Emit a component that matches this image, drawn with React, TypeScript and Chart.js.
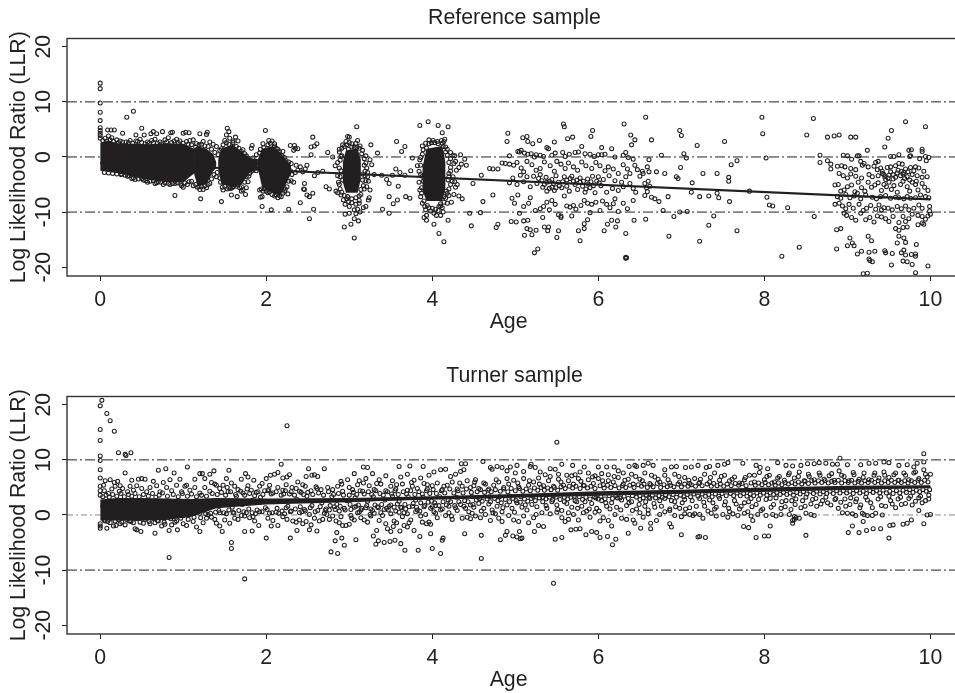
import React, { useEffect, useRef } from "react";
import { Chart, registerables } from "chart.js";
Chart.register(...registerables);

const xTickStep = 2;
const yTickStep = 10;
const xRange = [-0.4, 10.38];
const yRange = [-21.6, 21.5];
const refLines = [10, 0, -10];
const trendAges = [0, 10];
const refTrend = [-1.05, -7.7];
const turnerTrend = [1.55, 5.1];

// Outlines of the saturated cores: [ages, upper, lower]
const refCores = [
  [[0, .1, .2, .4, .6, .8, 1, 1.13], [2.6, 3, 2.5, 2.4, 2.3, 2.5, 2.4, 1.5], [-2.5, -2.7, -2.9, -3.6, -4.2, -4.6, -4.6, -3]],
  [[1.13, 1.17, 1.28, 1.36, 1.4], [1.5, 2, 1.5, .5, -1], [-3, -5.2, -5, -2.6, -2]],
  [[1.42, 1.46, 1.6, 1.7, 1.8, 1.9], [-.5, 1.6, 2.2, 1, -.2, -.4], [-2.2, -5, -5.4, -5, -2.8, -2.2]],
  [[1.9, 1.95, 2.08, 2.17, 2.3], [-.4, 1.5, 2, .8, -1.6], [-2.2, -5.5, -6.6, -7, -3]],
  [[2.92, 2.96, 3.1, 3.14], [-1, 1.2, 1.5, -.5], [-4.5, -6.5, -6.5, -4]],
  [[3.88, 3.93, 4.12, 4.16], [-2, 1.5, 2, -1], [-6, -8, -8, -5.5]],
];
const turnerCores = [
  [[0, .2, .5, .8, 1.1, 1.4, 2, 3, 4, 5, 6, 7, 8, 9, 10], [2.8, 3.1, 3.1, 3, 2.9, 3.1, 3, 3.1, 3.4, 3.8, 4.3, 4.6, 5, 5.3, 5.4], [-1, -1, -1, -.9, -.3, 1.2, 1.9, 2.3, 2.9, 3.3, 3.8, 4.1, 4.4, 4.7, 4.9]],
];

// age, LLR pairs read by eye
const refYoung = [
0,13.4,0,12.4,0,9.8,0,8.1,0,6.6,0,5.3,0,4.8,0,4.3,0,3.9,0,3.4,.32,7.2,.4,8.3,.5,5.2,.17,4.9,.09,4.9,.13,4.9,.27,4.3,.43,4,.53,4,.64,4.6,.61,4.2,.68,4.2,.75,4.6,.87,4.5,.85,4.4,1,4.3,1.03,4.5,1.07,4.4,1.2,4.2,1.29,4.5,1.28,4.1,1.53,5.2,1.55,4.6,1.52,4,1.63,3.6,1.99,4.8,2.56,3.6,2.61,2.4,2.58,2,2.54,1.8,2.29,2.1,2.34,2.1,2.35,1.6,2.38,1.5,2.33,1.2,1.83,2.1,1.82,1.6,2.54,.4,
.9,-7,1.21,-7.6,1.46,-8.1,1.58,-6.9,1.65,-7.2,1.75,-6.8,1.95,-9,2.06,-9.6,2.27,-9.5,1.93,-7.3,1.95,-7.2,2.41,-8.3,2.52,-11.2,2.57,-9.5,2.45,-5.8,2.46,-5.9,2.46,-4.8,2.49,-1.5,2.56,-6.6,2.52,-7.2,2.49,-6.9,
.06,3.4,.1,3.8,.14,3.5,.2,3.1,.24,2.9,.31,2.7,.36,3,.45,2.8,.48,3.2,.57,2.7,.62,3,.66,3.2,.72,2.7,.78,3.1,.82,3.5,.92,3.2,.96,2.9,1.04,2.8,1.08,3,1.12,3.1,1.16,2.4,1.24,2.8,1.32,2.7,1.36,2.3,1.4,1.9,1.46,1.5,1.5,3,1.56,3.4,1.6,2.6,1.66,2.9,1.7,1,1.74,.6,1.78,-.2,1.88,.4,1.92,.7,1.96,2.4,2.03,3,2.07,2.9,2.1,2,2.14,1.4,2.2,1,2.24,-.7,2.3,-1.2,2.36,-1.5,2.41,-1.8,2.47,-2.2,
.25,-3.2,.33,-3.5,.38,-3.9,.42,-4.1,.52,-4.2,.57,-4.6,.66,-4.8,.7,-4.5,.76,-5,.84,-5,.9,-4.8,.98,-5.2,1,-5.5,1.05,-5,1.12,-5.2,1.17,-5.5,1.2,-5.9,1.24,-5.9,1.28,-5.6,1.32,-4.8,1.4,-3.6,1.44,-3.8,1.47,-5.5,1.48,-6,1.53,-5.8,1.57,-5.7,1.6,-5.4,1.64,-5.3,1.68,-5.6,1.7,-6.2,1.72,-6,1.76,-5.6,1.78,-4.5,1.79,-3.5,1.82,-2.6,1.86,-1.9,1.9,-1.6,1.92,-6,1.96,-6.2,2.02,-6.5,2.1,-7.1,2.14,-7.4,2.18,-7.2,2.22,-6.2,2.25,-5.4,2.26,-6.7,2.3,-4.3,2.33,-4.6,2.21,-4.2,2.29,-2.5,2.38,-2.4,2.44,-2.7,
2.58,-3.4,2.62,-2.8,2.68,-2.6,2.74,.8,2.8,0,2.83,-1.6,2.72,-5.4,2.76,-5.8,2.86,-6.5,2.9,-6.9,2.84,-6.2,3.09,5.5,3.1,3,3.26,2.2,2.98,3.7,3,3.6,3.34,.7,3.76,-.2,3.82,-1.6,3.74,-2.5,3.39,-3.3,3.52,-3.3,3.56,-2.2,3.61,-2.8,3.67,-3.3,3.45,-4.1,3.48,-4.8,3.59,-5.3,3.48,-7.2,3.58,-7.8,3.53,-8.5,3.68,-7.2,3.73,-7.5,3.4,-9.5,3.48,-10.2,3.23,-7.8,3.2,-9,3.17,-9.2,3.57,2.8,3.67,1.9,3.63,1,
2.94,-12.7,3.02,-12.2,3.06,-11.2,3.11,-11.6,3.06,-14.7,3.85,5.7,3.95,6.4,4.07,5.7,4.19,5.5,4.12,4.4,4.15,3.2,4.14,2.8,4.08,-13.9,4.14,-15.4,4.02,-12.2,4.19,-11.5,3.93,-11.5,4.47,-12.5,4.45,-10.2,4.58,-10.1,4.61,-8.1,4.73,-6.9,4.36,-7.6,4.32,-7.1,4.23,-8.2,4.59,-3.3,4.49,-4.8,4.69,-2.1,4.73,-2.2,4.79,-2.2,4.41,-1.5,4.35,-1.3,4.39,-.4,4.34,.4,4.27,.2,
2.92,2.2,2.96,2.8,2.99,1.4,3.03,1.8,3.08,2.5,3.13,2,3.16,1.2,2.88,.9,2.9,.1,3.2,.2,3.25,-.5,3.27,-1.4,3.22,-2.8,3.3,-3.2,2.9,-2.5,2.86,-3.4,2.92,-4.2,2.88,-5,2.97,-7.6,3.03,-8.3,3.08,-8.6,3.12,-7.9,3.14,-6.8,3.18,-5.8,3.2,-4.3,3.25,-6,3.24,-7.4,3,-9,2.95,-8.6,3.06,-9.6,3.1,-9.5,3,-10.2,2.95,-10.4,3.08,-10.3,3.13,-10,3.16,-3.1,3.23,-4.4,
3.88,2,3.93,1.6,3.96,2.4,3.99,2.6,4.03,2.6,4.07,2.4,4.11,3,4.13,1.9,4.18,1.4,4.22,.8,4.25,.3,4.28,-.8,4.32,-1.9,4.22,-2.6,4.2,-3.6,4.24,-4.4,4.28,-5.5,4.17,-6.2,4.14,-7.2,4.1,-8.5,4.08,-9,4.12,-9.2,4.18,-8.4,3.88,-3.5,3.89,-4.4,3.87,-5.6,3.86,-7.2,3.9,-8,3.94,-8.8,3.92,-9.6,3.98,-9.8,4.02,-10.2,3.93,-10.6,3.9,-11,4.05,-10.6,4.1,-10.6,4.13,-10,4.3,-5,4.26,-6.8,4.2,-7,
];
const refDense = [
.03,3,.08,2.9,.12,3.1,.16,2.8,.22,2.6,.27,2.7,.34,2.6,.39,2.5,.43,2.9,.5,2.6,.54,2.4,.59,2.5,.64,2.6,.69,2.5,.74,2.4,.8,2.7,.86,2.6,.89,2.9,.94,2.6,1,2.5,1.06,2.3,1.1,2.2,1.15,1.8,1.19,2.2,1.22,2.3,1.26,2,1.3,1.9,1.34,1.4,1.38,.8,1.42,.4,1.44,1.2,1.48,2.2,1.52,2.6,1.55,2.3,1.6,2.9,1.64,1.9,1.67,1.6,1.72,1.3,1.76,.2,1.84,-.2,1.88,-.8,1.93,1.4,1.97,1.7,2.02,2.2,2.05,2.5,2.1,2.4,2.12,1.6,2.16,1,2.19,.2,2.22,-.1,2.27,-.9,
.05,-2.8,.1,-2.9,.15,-3,.2,-3.1,.26,-3.1,.3,-3.3,.35,-3.4,.4,-3.8,.46,-4,.5,-3.9,.55,-4.3,.6,-4.4,.64,-4.3,.68,-4.7,.73,-4.6,.78,-4.7,.82,-4.8,.87,-4.8,.93,-4.7,.97,-4.9,1.02,-4.7,1.07,-4.5,1.1,-4.4,1.15,-5,1.19,-5.4,1.22,-5.4,1.26,-5.2,1.3,-5,1.34,-4,1.37,-3.2,1.41,-2.8,1.45,-4.6,1.5,-5.3,1.55,-5.6,1.59,-5.6,1.62,-5.1,1.66,-5,1.7,-5.4,1.74,-4.6,1.76,-3.6,1.8,-3,1.84,-2.4,1.88,-2.5,1.94,-5.8,1.98,-5.8,2,-6.2,2.04,-6.3,2.07,-6.8,2.12,-6.9,2.16,-7,2.2,-6.6,2.23,-5.8,2.27,-4.4,2.31,-3.2,2.35,-2.8,
2.88,1.4,2.91,1.6,2.94,1.9,2.97,2.2,3,2.6,3.03,2.4,3.06,1.7,3.09,1.7,3.12,1.6,3.15,.6,3.18,-.3,3.18,-1.5,3.21,-2,3.19,-3.4,3.16,-4.2,3.17,-5.2,3.14,-5.9,3.12,-7.1,3.08,-7.4,3.03,-7.6,2.98,-7.2,2.94,-7,2.91,-6.4,2.89,-5.8,2.87,-4.6,2.89,-3.6,2.88,-2,2.86,-1,2.89,-.6,2.91,.2,3.2,-1.1,3.19,-2.6,3.22,-3.6,3.21,-5.4,3.12,-8.4,2.99,-8.1,2.93,-7.8,
3.85,-.5,3.86,-1.5,3.84,-2.6,3.86,-3.2,3.84,-4.6,3.85,-6,3.87,-6.6,3.88,-8.4,3.91,-9,3.96,-9.2,4,-9.3,4.04,-9.5,4.07,-9.7,4.1,-8.9,4.14,-8.2,4.16,-7.5,4.18,-6.6,4.2,-5.8,4.22,-5,4.19,-4.2,4.2,-3,4.22,-1.9,4.2,-1,4.22,-.3,4.18,.3,4.16,.9,4.16,1.8,4.12,2.5,4.06,2.8,4.01,3,3.96,3.1,3.92,2.5,3.89,1.3,3.88,.5,3.86,-.1,4.26,-1.2,4.29,-2.4,4.25,-3.6,4.27,-4.5,
];
const refMid = [
4.91,4.3,4.9,2.8,5.09,3.5,5.14,3.7,5.15,2.8,5.21,2.4,5.29,3,5.38,1.7,5.4,1.5,5.47,2.7,5.58,6,5.59,5.5,5.63,3.3,5.69,3.6,5.91,3.7,5.93,4.8,6.04,1.7,6.16,1.5,6.31,6,6.39,4,6.44,3.1,6.4,2.2,
5.23,-17.4,5.27,-16.7,6.33,-18.2,6.33,-18.4,6.34,-18.3,6.33,-13.9,5.78,-15.2,5.5,-14.6,5.52,-13.4,5.11,-14.2,5.2,-14.1,5.14,-13,5.18,-13.2,5.25,-13.3,5.35,-12.7,5.4,-12.7,5.39,-13.4,4.79,-12.2,4.77,-12.8,4.95,-11.7,5.01,-11.8,5.1,-11.6,5.15,-11.5,5.76,-13.4,5.83,-13,5.83,-12.1,6.07,-13.4,6.11,-12.2,6.16,-11.5,6.23,-11.6,6.21,-12.7,6.43,-11.5,
4.93,.2,5.03,1,5.05,.9,5.07,1.2,5.11,.7,5.15,.5,5.19,.6,5.23,0,5.25,.4,5.3,.3,5.34,.1,5.44,.3,5.48,.7,5.57,.8,5.6,.1,5.65,.5,5.72,.8,5.76,.9,5.8,1.9,5.84,.6,5.9,.5,5.95,.1,6,.4,6.04,.4,6.08,.5,6.2,0,6.3,.3,6.33,.8,6.36,-.1,6.42,-.4,
4.84,-1.1,4.88,-1.2,4.93,-1.3,4.98,-1.5,5.02,-1,5.07,-2,5.1,-2.7,5.14,-.8,5.2,-1.4,5.25,-2.4,5.3,-2.1,5.35,-.9,5.42,-1.6,5.47,-2.6,5.5,-.8,5.55,-1.3,5.6,-2.1,5.64,-1.1,5.7,-1.8,5.75,-2.4,5.8,-.9,5.85,-1.6,5.92,-2.1,5.97,-1,6.02,-1.6,6.08,-2.5,6.12,-1.8,6.18,-2.2,6.24,-3,6.3,-1.4,6.35,-2.2,6.38,-3,6.44,-1.5,
4.93,-4.7,4.97,-3.8,5.02,-5,5.06,-3.3,5.1,-4.5,5.14,-3.6,5.18,-5.4,5.22,-3.5,5.26,-4.8,5.3,-3.2,5.33,-5.5,5.37,-3.7,5.38,-6.2,5.41,-4.4,5.44,-5.5,5.47,-6.1,5.49,-3.4,5.52,-4.6,5.56,-5.6,5.59,-3.6,5.62,-4.2,5.65,-6.2,5.68,-3.5,5.72,-5,5.75,-5.9,5.78,-3.8,5.81,-5.3,5.84,-6.4,5.87,-4,5.9,-5.6,5.93,-3.5,5.96,-6.5,6,-3.6,6.03,-5.2,6.06,-4.1,6.1,-6.4,6.13,-3.4,6.17,-5.7,6.2,-4.3,6.24,-6.1,6.28,-4.6,6.3,-5.4,6.33,-3.6,6.38,-4.8,6.42,-5.7,6.45,-6.4,
4.96,-7.5,4.99,-8.4,5.03,-6.9,5.1,-9,5.16,-8.4,5.18,-7.4,5.24,-9.7,5.3,-9.4,5.34,-9,5.38,-8.2,5.41,-9.6,5.44,-7.9,5.48,-8.6,5.52,-10.5,5.55,-10.7,5.59,-7.1,5.62,-8.9,5.66,-9.1,5.7,-8.8,5.73,-9.5,5.79,-8.8,5.83,-7.9,5.87,-8.4,5.9,-10.1,5.92,-8.6,5.97,-8.2,6.02,-9.7,6.05,-8,6.1,-8.6,6.14,-9.2,6.18,-8.5,6.2,-7.6,6.24,-9.9,6.3,-8.4,6.35,-9.4,6.42,-7.9,
5.87,-11.4,5.68,-10.7,5.55,-11,5.33,-11,5.05,-10.2,
5.28,-3.9,5.32,-4.3,5.35,-5,5.38,-4.6,5.41,-5.7,5.44,-4.1,5.46,-4.8,5.49,-5.6,5.53,-5.2,5.57,-4.5,5.62,-5.3,5.66,-3.9,5.7,-4.4,5.74,-4.2,5.78,-4.6,5.82,-4.4,5.85,-5.8,5.88,-4.9,5.91,-4.5,5.94,-5.2,5.98,-4.4,6.01,-4.7,
6.57,7.2,7.97,7.2,8.59,7,7.98,4.2,6.98,4.8,7,3.9,7.19,2.1,7.52,2.8,6.64,3.1,7.03,.6,7.06,-.2,6.76,.3,8.02,-.2,8.51,4,8.76,3.6,8.84,3.8,8.9,4,9.04,3.6,9.1,3.6,
6.61,-.5,6.59,-1.8,7.67,-.7,7.6,-1.4,6.47,-2.3,6.54,-3,6.61,-2.7,6.7,-2.7,6.8,-3,6.94,-3.6,6.96,-3.9,6.99,-1.9,7.26,-3,7.43,-3,7.13,-4.7,7.57,-3.7,7.57,-4.4,7.82,-6.2,7.12,-6.4,7.22,-7.2,7.33,-7.1,7.43,-6.6,7.45,-7.4,7.58,-8.1,8.03,-7.3,8.06,-8.7,8.1,-8.9,8.28,-9.2,6.56,-7,6.59,-6.3,6.64,-7.3,6.68,-7.6,6.73,-8.1,6.84,-7.2,6.78,-9.7,6.98,-10,7.07,-9.9,6.91,-10.8,7.39,-10.7,7.33,-12.4,6.57,-11.3,6.85,-14.4,7.22,-15.3,7.67,-13.4,8.6,-10.8,8.21,-18,8.42,-16.4,8.67,.3,8.67,-1,8.76,-.7,8.8,-1.3,8.8,-2.2,
6.5,-3.5,6.53,-2.6,6.56,-4.8,6.6,-4.4,6.58,-5.6,6.62,-5.3,
];
const refOld = [
9.7,6.4,9.94,5.5,9.53,4.8,9.49,3.4,9.45,1.8,9.24,1.2,8.95,.3,9,.2,9.05,-.4,9.12,.2,9.14,.2,9.16,-.8,9.2,-1.2,9.34,-1,9.37,-.8,9.52,.1,9.56,.1,9.62,.4,9.74,1.2,9.77,1.3,9.9,1.4,9.9,1,9.94,.1,9.98,-.1,9.95,-.7,9.87,-.3,9.76,.2,9.75,.1,
8.88,-1.7,8.93,-1.6,8.97,-1.8,9.04,-2.1,9.1,-2.3,9.18,-1.5,9.25,-1.8,9.32,-1.7,9.36,-2.3,9.4,-2,9.48,-1.9,9.52,-1.8,9.58,-1.6,9.62,-1.2,9.66,-1.3,9.7,-2.2,9.76,-1.9,9.82,-1.8,9.86,-2,9.92,-2.6,
8.9,-3,8.95,-3.4,9,-3.8,9.04,-3.1,9.1,-3.5,9.17,-3.8,9.26,-3.2,9.3,-3.6,9.37,-3.4,9.42,-3,9.45,-3.6,9.49,-3.8,9.55,-3.2,9.6,-2.9,9.64,-3.4,9.68,-2.8,9.72,-3.6,9.78,-3.2,9.84,-3.4,9.9,-3.7,9.96,-3.6,
8.85,-5.1,8.89,-5,8.92,-6.2,8.96,-6,9,-5.4,9.05,-5.1,9.09,-6.3,9.13,-4.6,9.17,-5.6,9.21,-6.2,9.25,-4.6,9.29,-5.5,9.33,-5.1,9.37,-4.7,9.41,-6.1,9.44,-5,9.47,-5.4,9.5,-4.6,9.53,-5.9,9.56,-5.2,9.6,-6.4,9.64,-5,9.67,-4.4,9.72,-5.4,9.75,-6.2,9.78,-4.6,9.82,-5,9.85,-6,9.9,-4.8,9.93,-5.5,9.97,-6.1,
8.88,-7.2,8.92,-7.5,8.98,-6.8,9.03,-7.4,9.08,-7.1,9.12,-6.6,9.16,-7.6,9.22,-6.9,9.3,-7.3,9.35,-7.6,9.4,-7.2,9.46,-7,9.52,-7.5,9.58,-7.3,9.62,-7.4,9.68,-7.6,9.72,-7.2,9.76,-7.5,9.82,-7.4,9.88,-6.9,9.94,-7.2,9.98,-7.4,
8.85,-8.6,8.9,-8.4,8.94,-8.9,8.98,-9.4,9.02,-8.6,9.07,-9.3,9.14,-8.6,9.19,-9.7,9.23,-9.3,9.28,-8.8,9.34,-9.5,9.38,-8.7,9.41,-9.6,9.44,-9.2,9.49,-9.3,9.54,-9.6,9.6,-9,9.65,-9.4,9.7,-8.9,9.74,-9.6,9.8,-9.3,9.86,-8.7,9.9,-9.3,9.99,-9,9.99,-9.8,
8.96,-10.2,8.99,-10.6,9.05,-11,9.1,-11.5,9.16,-10.2,9.22,-11.4,9.27,-11,9.32,-11.8,9.36,-10.7,9.41,-10.9,9.46,-11.2,9.5,-11.7,9.55,-10.8,9.62,-11.9,9.67,-10.8,9.7,-11.7,9.74,-11.2,9.78,-10.4,9.85,-10.6,9.9,-10.8,9.97,-10.7,10,-10.4,9.94,-11.3,9.9,-12,9.85,-12.3,9.72,-12.7,9.67,-12.8,9.62,-13.3,9.58,-13,9.92,-12.2,
8.87,-13.2,8.92,-13,9.03,-14.7,9.06,-15.6,9.08,-16.1,9,-16.1,8.87,-16.7,9.12,-17.6,9.17,-17.1,9.26,-17.3,9.33,-17.1,9.45,-17,9.46,-17.4,9.54,-17.5,9.65,-17.4,9.7,-17.8,9.77,-17.7,9.82,-17.6,9.82,-18,9.26,-18.5,9.27,-18.8,9.3,-19,9.53,-19.6,9.67,-18.9,9.72,-19,9.78,-19.5,9.97,-19.8,9.82,-21,9.24,-21.1,9.19,-21.2,9.25,-14.4,9.29,-15.2,9.62,-14.4,9.6,-15.6,9.7,-15.5,9.68,-14.7,9.83,-15.9,9.68,-16.9,
9.42,-2.6,9.44,-3.2,9.46,-4.1,9.5,-3.3,9.52,-2.7,9.55,-4,9.58,-3.7,9.61,-2.4,9.65,-2.6,9.67,-3.1,9.69,-3.9,9.73,-2.7,9.75,-4.2,9.8,-2.5,9.83,-4.4,
];

const turnerYoung = [
.02,20.8,0,19.8,.08,18.4,.12,17.1,0,15.5,.17,15.2,0,13.5,2.25,16.2,.22,11.3,.3,11,.31,10.8,.37,11.3,0,10.7,0,9.9,0,8.2,0,6.7,2.18,9.2,1.05,8.7,2.51,8.4,.7,8.1,.79,8.4,1.55,8.1,.89,7.6,1.37,8,.3,7.6,
.83,-7.7,1.74,-11.6,1.58,-5,1.58,-6.1,2,-4.2,2.29,-4.2,.08,-2.4,.66,-3.3,.83,-2.8,.49,-3,.42,-2.5,.44,-2.7,.93,-2.7,1.2,-3,1.47,-3,1.74,-3,1.83,-2.9,2.37,-2.8,2.61,-2.9,2.52,-2.7,0,-2.4,0,-2,0,-1.6,0,5.2,0,4.4,0,3.6,
.04,5.4,.06,6.2,.12,6.4,.17,5.9,.21,6.1,.24,5.3,.36,5.2,.38,6.3,.46,6.5,.5,6.6,.54,6.5,.64,6.1,.76,5.9,.84,6.4,.96,6.5,1.04,5.4,1.14,6.5,1.2,7.5,1.23,7.5,1.26,6.6,1.32,7.4,1.34,5.9,1.4,5.4,1.52,6.6,1.58,5.8,1.7,6.5,1.75,7.5,1.78,6.9,1.85,6.3,1.95,5.7,2,6.6,2.05,7.2,2.1,7.4,2.14,7.7,2.2,6.7,2.25,6.9,2.28,7.3,2.38,6,2.44,5.5,2.48,7,2.55,7.2,2.58,7.3,2.62,7,
.05,4.4,.1,3.9,.14,4.7,.18,5.2,.23,4.3,.27,4.8,.33,4.2,.4,4.5,.44,5.3,.5,4.8,.56,4.2,.6,5,.68,5.3,.72,4.2,.8,5,.86,4.4,.92,5.4,.98,4.2,1.02,5.2,1.08,4.5,1.14,5,1.2,4,1.26,5,1.32,4.3,1.38,5.6,1.44,4.8,1.48,5.4,1.54,4.2,1.62,5.2,1.66,4.6,1.72,4,1.78,5.3,1.82,4.5,1.88,4.1,1.92,5.2,1.98,4.4,2.04,5.4,2.08,4,2.14,5,2.2,4.5,2.24,5.5,2.3,4.2,2.36,4.8,2.42,4.1,2.47,5.2,2.54,4.4,2.6,5.1,2.66,4.6,
.06,-1.1,.12,-1.4,.16,-2,.19,-1.9,.24,-1.6,.3,-1.8,.35,-1.1,.4,-1.4,.52,-1.5,.6,-1.6,.66,-1.4,.7,-1.1,.74,-2,.78,-1.7,.86,-1.8,.9,-1.3,1,-1.6,1.04,-1.9,1.12,-1.2,1.16,-2.2,1.24,-1.4,1.28,-.6,1.34,-.4,1.38,-.8,1.4,-1.5,1.44,-2,1.5,-.9,1.56,-1.5,1.62,-.6,1.66,-.8,1.74,-.2,1.8,-.5,1.86,-1.1,1.91,-1.9,2.02,-.6,2.08,-1,2.06,-2,2.14,-1.9,2.2,-.3,2.25,-.8,2.32,-1.1,2.36,-1.3,2.4,-.9,2.44,-1.6,2.48,-1.2,2.54,-1.8,2.58,-.6,2.64,-1.1,2.68,-.8,
.1,.4,.2,.1,.28,-.2,.36,.3,.46,-.4,.56,.1,.64,-.3,.72,.3,.82,-.2,.9,.2,1,-.1,1.08,.2,1.2,.3,1.3,.1,1.44,.4,1.52,.2,1.6,.5,1.7,-.1,1.76,.4,1.84,-.3,1.92,.6,2.04,.3,2.12,.5,2.22,.2,2.3,.7,2.4,.4,2.46,1,2.52,.1,2.62,.8,2.7,.3,
2.78,-6.7,2.86,-7,2.83,-4.7,2.91,-4.2,2.94,-5.5,3.08,-4.5,2.85,-3.2,3.32,-5.3,3.35,-4.7,3.42,-5,3.49,-4.8,3.55,-4.6,3.62,-5.2,3.67,-6.4,3.83,-6.4,4,-6.1,4.1,-7,4.13,-4.2,4.12,-4.6,3.85,-3.9,3.98,-3.4,3.29,-3.8,3.33,-2.8,3.46,-2.5,3.5,-3,3.53,-2.1,3.57,-1.4,3.61,-2.9,3.66,-1.9,3.7,-2.2,3.72,-1.4,3.78,-2.8,3.88,-1.3,3.93,-1.6,3.98,-1.7,
2.7,8.4,3.17,8.7,3.22,8.6,3.6,8.8,3.73,8.9,3.89,8.8,2.9,6.1,2.98,6.4,3.06,7.5,3.12,6.2,3.2,6.6,3.28,7.5,3.36,6.4,3.44,7.1,3.52,6.2,3.62,6.9,3.7,7.4,3.78,6.3,3.86,6.7,3.96,7.2,4.02,7.8,4.1,8.2,4.16,8.3,4.22,7,4.28,7.4,4.34,7.9,4.38,8.2,
2.72,1.1,2.76,-.8,2.8,-.2,2.84,-1.1,2.88,-1.4,2.9,-.3,2.92,-1.9,2.96,-1.9,3,-1.7,3.02,-.1,3.06,-.9,3.1,.4,3.14,-.5,3.18,-.9,3.22,-1.3,3.26,-.2,3.3,.3,3.36,-1,3.4,-.1,3.44,-1.6,3.5,.2,3.54,-1.1,3.6,.5,3.64,-.3,3.7,.2,3.74,-.9,3.8,.6,3.86,-.2,3.92,.1,3.96,-1.3,4.02,.6,4.06,-.5,4.1,.9,4.16,-.1,4.2,.4,4.24,-.8,4.3,.8,4.36,-.6,4.42,-.4,4.48,.3,
2.74,5,2.8,4.6,2.86,5.2,2.92,4.3,3,5,3.04,4.6,3.1,5.5,3.16,4.3,3.24,5.3,3.3,4.6,3.38,5.6,3.44,4.4,3.5,5.2,3.56,4.7,3.64,5.6,3.7,4.5,3.76,5.2,3.82,4.8,3.9,5.7,3.94,4.7,4,5.3,4.06,5.8,4.12,4.6,4.18,5.4,4.24,6,4.3,4.7,4.36,5.2,4.42,6.2,4.46,5,4.52,6.4,
2.76,.9,2.82,1.5,2.88,.7,2.94,1.2,3.02,1,3.08,1.6,3.14,.9,3.2,1.3,3.28,.8,3.34,1.5,3.42,1,3.48,1.6,3.56,.7,3.62,1.4,3.68,1.1,3.76,1.6,3.82,.9,3.9,1.5,3.98,1.2,4.04,1.7,4.12,1.1,4.2,1.6,4.28,1.3,4.34,1.9,4.4,1.2,4.46,1.8,
];
const turnerDenseA = [
.03,3.3,.07,3.6,.11,3.2,.15,3.7,.2,3.4,.25,3.9,.29,3.3,.34,3.7,.38,3.4,.42,3.9,.47,3.3,.52,3.7,.58,3.4,.63,3.9,.67,3.2,.71,3.6,.75,4,.81,3.4,.88,3.7,.94,3.3,.99,3.9,1.05,3.4,1.1,3.8,1.16,3.3,1.22,3.6,1.28,3.4,1.35,3.9,1.41,3.7,1.46,4.1,1.51,3.6,1.57,4.2,1.63,3.7,1.69,4.3,1.74,3.6,1.8,3.9,1.86,3.5,1.9,4.2,1.96,3.7,2.02,4.4,2.06,3.8,2.12,4.2,2.18,3.6,2.23,4.4,2.28,3.8,2.34,3.6,2.4,4.3,2.45,3.7,2.5,4.1,2.56,3.7,2.63,4,2.69,3.6,2.75,4.2,2.81,3.7,2.87,3.9,2.93,3.6,
.05,-.9,.09,-1.2,.13,-.6,.18,-1.1,.22,-.8,.26,-1.3,.32,-.8,.37,-1.2,.43,-.7,.48,-1.3,.54,-.8,.59,-1.2,.65,-.7,.69,-1,.77,-1.3,.85,-.7,.92,-1.1,.97,-.6,1.06,-.8,1.13,-.4,1.21,-.5,1.27,.2,1.33,.3,1.39,.5,1.43,.8,1.49,.4,1.55,.9,1.61,.3,1.67,.8,1.73,.6,1.79,1.1,1.83,.4,1.89,.9,1.95,.6,2.01,1,2.07,.4,2.13,1.2,2.19,.7,2.24,1.3,2.29,.6,2.35,1.1,2.41,1.5,2.47,.7,2.53,1.3,2.59,.6,2.65,1.5,2.71,.8,2.77,1.7,2.83,1,2.89,1.6,2.95,.9,
3,3.6,3.05,4.1,3.09,3.7,3.13,4.4,3.18,3.8,3.23,4.2,3.27,3.7,3.32,4.4,3.37,3.9,3.41,3.6,3.46,4.2,3.51,3.8,3.55,4.4,3.59,3.7,3.65,4.2,3.69,3.8,3.74,4.4,3.79,3.7,3.84,4.2,3.88,3.8,3.93,4.4,3.97,3.9,4.01,4.6,4.05,3.9,4.11,4.4,4.15,4,4.21,4.7,4.26,4,4.31,4.4,4.37,4,4.41,4.7,4.47,4.1,
3.01,1.9,3.06,1.4,3.11,1.8,3.15,1.2,3.21,1.7,3.26,1.1,3.31,1.8,3.35,1.3,3.39,1.9,3.45,1.2,3.5,1.8,3.54,1.4,3.58,2,3.63,1.3,3.67,1.9,3.72,1.5,3.77,2.1,3.81,1.4,3.86,2.2,3.91,1.7,3.95,2.3,4,1.5,4.03,2.2,4.08,1.7,4.13,2.4,4.17,1.8,4.22,2.4,4.27,1.7,4.32,2.4,4.38,1.6,4.43,2.4,4.49,1.9,
];
const turnerMid = [
4.61,9.7,4.35,9.3,4.4,9.3,5.5,13.2,5.46,-12.4,4.59,-7.9,4.39,-3.4,4.59,-3.7,4.82,-4.5,4.88,-3.7,4.9,-3,4.97,-3.8,5.02,-4,5.06,-4.3,5.08,-4.2,5.05,-3,5.23,-3,5.48,-4.4,5.56,-4.1,5.67,-2.7,5.73,-2.6,5.78,-2.5,5.85,-3.6,5.92,-3,5.98,-3.2,6.02,-4.1,6.11,-3.9,6.17,-5.4,6.21,-4.4,6.36,-3.3,
6.44,9,6.37,8.8,6.19,8.7,6.1,8.7,6,8.7,5.19,9.2,5.02,9,4.94,8.7,5.56,9.2,5.69,9,5.83,8.7,4.7,8.6,4.72,8.3,4.78,8.8,4.84,8.6,4.9,8,5,7.6,5.1,7.9,5.18,8.8,5.24,8.6,5.3,7.8,5.36,7.3,5.42,8.4,5.48,8.3,5.52,7.4,5.62,7.2,5.72,7.3,5.78,7.8,5.88,7.6,5.96,7.1,6.04,7.5,6.12,7.3,6.24,8,6.3,7.6,6.4,7.4,
4.5,5.3,4.56,4.8,4.62,5.8,4.68,4.7,4.74,5.4,4.8,6,4.86,5,4.92,5.6,4.98,6.3,5.04,5.1,5.1,6.6,5.16,5.4,5.22,6,5.28,6.7,5.34,5.3,5.4,6.2,5.46,5.2,5.52,6.5,5.58,5.4,5.64,6.2,5.7,5.6,5.76,6.6,5.82,5.4,5.88,6.4,5.94,5.7,6,6.6,6.06,5.5,6.12,6.2,6.18,6,6.24,6.8,6.3,5.6,6.36,6.5,6.42,5.6,
4.5,1.4,4.56,2.1,4.62,1.2,4.68,2,4.72,.9,4.78,1.6,4.84,.6,4.9,1.8,4.96,1.2,5.02,2.2,5.08,1.4,5.14,.9,5.2,1.9,5.26,1.5,5.32,.4,5.38,1.2,5.44,2.4,5.5,1.8,5.56,.8,5.62,2.1,5.68,1.4,5.74,2.4,5.8,1.6,5.86,.7,5.92,2.1,5.98,1.2,6.04,2.6,6.1,1.6,6.16,2.2,6.22,1.4,6.28,2.7,6.34,1.7,6.4,2.4,6.46,1.1,
4.46,-.7,4.52,-.2,4.58,-.5,4.64,.1,4.7,-1,4.76,.2,4.8,-.6,4.84,-1.2,4.92,-.1,4.98,-.9,5.04,-1.2,5.1,-.2,5.16,-1.4,5.22,-.5,5.28,-1.9,5.34,-2.1,5.42,.2,5.5,.5,5.56,-.5,5.6,-1.2,5.64,-.8,5.7,.1,5.76,-.9,5.82,.4,5.9,-.4,5.96,.5,6.02,-1.1,6.06,-.5,6.12,-1,6.16,-2,6.2,.1,6.28,-.6,6.34,-.8,6.42,-.9,6.44,-1.5,
];
const turnerDenseB = [
4.53,2.7,4.57,3,4.6,2.5,4.66,2.9,4.7,2.4,4.75,3,4.79,2.6,4.83,2.2,4.88,2.8,4.93,2.4,4.97,3,5.01,2.6,5.06,2.3,5.11,2.9,5.15,2.5,5.19,3,5.24,2.6,5.29,3.1,5.33,2.4,5.37,2.9,5.41,3.2,5.45,2.7,5.49,3.2,5.54,2.8,5.59,3.2,5.63,2.9,5.67,3.2,5.72,2.6,5.77,3.3,5.81,2.8,5.85,3.2,5.9,2.9,5.95,3.3,6,2.9,6.03,3.4,6.08,2.9,6.13,3.5,6.17,3,6.21,3.5,6.26,3.1,6.31,3.4,6.36,3,6.41,3.5,6.46,3.2,
4.54,4.2,4.58,4.6,4.63,4.1,4.67,4.5,4.71,4.2,4.76,4.6,4.82,4.3,4.86,4.7,4.91,4.2,4.95,4.8,5,4.4,5.05,4.8,5.09,4.3,5.13,4.7,5.18,4.4,5.23,4.9,5.27,4.5,5.31,5,5.35,4.5,5.39,4.9,5.43,4.6,5.47,5,5.51,4.5,5.55,5.1,5.6,4.8,5.65,5.2,5.69,4.9,5.73,5.2,5.78,4.8,5.83,5.3,5.87,4.9,5.91,5.2,5.96,4.8,6.02,5.3,6.07,4.9,6.11,5.4,6.15,5,6.2,5.3,6.25,4.9,6.29,5.3,6.33,5,6.38,5.4,6.43,5,6.48,5.5,
6.5,3.5,6.54,3.1,6.58,3.6,6.61,3.2,6.65,3.6,6.69,3.1,6.73,3.5,6.77,3.2,6.81,3.6,6.85,3.3,6.9,3.7,6.94,3.2,6.99,3.6,7.03,3.3,7.07,3.7,7.11,3.3,7.15,3.8,7.2,3.4,7.25,3.8,7.29,3.4,7.33,3.7,7.37,3.3,7.41,3.8,7.45,3.4,7.49,3.9,7.54,3.5,7.59,3.9,7.63,3.5,7.67,4,7.71,3.5,7.75,3.9,7.79,3.4,7.83,3.8,7.87,3.5,7.91,4,7.95,3.6,7.99,4,8.03,3.6,8.07,4,8.11,3.7,8.15,4.1,8.19,3.7,8.23,4.1,8.27,3.7,8.31,4,8.35,3.6,8.39,4.1,8.43,3.8,8.47,4.2,8.51,3.8,8.55,4.3,8.59,3.9,8.63,4.3,8.67,3.8,8.71,4.2,8.75,3.9,8.79,4.3,8.83,3.9,8.87,4.4,8.91,4,8.95,4.4,8.99,4,9.03,4.3,9.07,3.9,9.11,4.4,9.15,4,9.19,4.3,9.23,3.9,9.27,4.4,9.31,4.1,9.35,4.4,9.39,4,9.43,4.5,9.47,4,9.51,4.3,9.55,3.9,9.59,4.4,9.63,4,9.67,4.5,9.71,4.1,9.75,4.6,9.79,4.1,9.83,4.5,9.87,4.2,9.91,4.6,9.95,4.3,9.99,4.6,
6.52,5.2,6.55,5.6,6.59,5,6.63,5.5,6.66,5.1,6.71,5.7,6.75,5,6.79,5.5,6.83,5.1,6.87,5.4,6.91,5.1,6.96,5.6,7,5.1,7.04,5.6,7.08,5.2,7.12,5.5,7.17,5.2,7.21,5.7,7.25,5.3,7.31,5.6,7.36,5.2,7.39,5.7,7.43,5.3,7.47,5.6,7.51,5.2,7.55,5.6,7.6,5.3,7.65,5.7,7.69,5.4,7.73,5.7,7.78,5.3,7.84,5.8,7.89,5.4,7.93,5.8,7.97,5.5,8.01,5.9,8.05,5.5,8.09,5.8,8.13,5.4,8.17,5.8,8.21,5.5,8.25,5.9,8.29,5.6,8.33,5.9,8.37,5.6,8.41,6,8.45,5.6,8.49,6.1,8.53,5.7,8.57,6.2,8.61,5.8,8.65,6.2,8.69,5.9,8.73,6.2,8.77,5.8,8.81,6.1,8.85,5.9,8.89,6.3,8.93,5.8,8.97,6.2,9.01,5.9,9.05,6.3,9.09,5.8,9.13,6.1,9.17,5.8,9.21,6.2,9.25,5.9,9.29,6.3,9.33,5.9,9.37,6.2,9.41,5.8,9.45,6.2,9.49,5.9,9.53,6.3,9.57,5.9,9.61,6.3,9.65,5.9,9.69,6.2,9.73,5.8,9.77,6.2,9.81,5.9,9.85,6.3,9.89,5.9,9.93,6.3,9.97,6,
];
const turnerDenseC = [
1.47,2.2,1.53,5,1.59,1.4,1.64,3.4,1.71,1.9,1.77,4.7,1.83,2.6,1.87,.2,1.93,3.2,1.99,1.3,2.03,4.6,2.09,2.4,2.15,.3,2.21,3.8,2.26,1.6,2.31,5,2.37,2.8,2.43,.6,2.49,3.4,2.55,1.7,2.61,4.8,2.67,2.2,2.73,.1,2.79,3.3,2.85,1.9,2.91,5.6,2.97,2.6,3.03,-.6,3.07,3.1,3.12,.5,3.17,5.8,3.22,2.5,3.25,.1,3.29,3.3,3.33,5.7,3.38,.4,3.43,2.7,3.47,.9,3.52,3.4,3.57,5.5,3.6,2.5,3.66,.4,3.71,3.3,3.75,5.9,3.8,2.7,3.85,.7,3.89,3.2,3.94,5.5,3.99,2.5,4.04,.3,4.09,3.3,4.14,5.2,4.19,2.7,4.23,-.2,4.29,3.2,4.33,5.8,4.39,2.6,4.44,.6,4.48,3.3,
4.51,6,4.55,3.2,4.59,.7,4.64,5.6,4.69,3.3,4.73,.4,4.77,6.4,4.81,3.3,4.85,1.3,4.9,6.6,4.94,3.4,4.99,.5,5.03,5.8,5.07,3.3,5.12,1.8,5.17,6.2,5.21,3.4,5.25,.1,5.29,5.6,5.33,3.2,5.37,1.7,5.42,7,5.46,3.5,5.51,1,5.55,6,5.59,2.4,5.64,.4,5.68,7.1,5.71,3.4,5.75,1.2,5.79,6.1,5.84,2.4,5.89,1.1,5.93,6.9,5.97,3.1,6.01,.7,6.05,6.2,6.09,2.2,6.14,1.1,6.19,7,6.23,3.1,6.27,.9,6.32,6.3,6.37,2.2,6.41,.8,6.45,7,
6.49,1.9,6.53,6.2,6.57,2.4,6.6,.9,6.64,7.2,6.67,2.1,6.72,6.5,6.76,1.6,6.8,.6,6.84,6.4,6.88,2.6,6.93,1.5,6.97,7,7.01,2.2,7.05,1.1,7.09,6.3,7.13,2.6,7.18,1.6,7.23,6.5,7.27,2.3,7.32,.7,7.35,6.8,7.38,2.2,7.42,1.4,7.48,7,7.53,2.4,7.57,1.2,7.61,6.5,7.66,2,7.72,1.6,7.77,6.8,7.81,2.4,7.85,1.5,7.88,7.2,7.93,2.8,7.98,1.1,8.03,7,8.07,3,8.11,1.9,8.16,6.7,8.21,2.4,8.25,1.5,8.29,7.3,8.33,2.6,8.37,1.9,8.41,7,8.46,2.6,8.49,1.6,8.53,7.4,8.58,2.8,8.63,1.6,8.67,7.2,8.7,2.6,8.76,2.2,8.81,7.5,8.85,2.8,8.89,1.2,8.93,7.2,8.97,2.9,9.03,1.9,9.07,7.7,9.11,2.9,9.15,1.3,9.19,6.8,9.24,2.7,9.3,1.3,9.33,7.6,9.37,2.9,9.41,1.7,9.45,7.2,9.5,3.4,9.54,2,9.58,7.6,9.61,2.9,9.65,1.9,9.7,7.2,9.74,3,9.78,1.8,9.82,7.8,9.86,3.1,9.9,2.2,9.94,7.4,9.98,2.9,
];
const turnerOld = [
9.92,11.1,9.92,9.6,8.91,10.3,8.88,9.2,7.2,-4,7.22,-3.9,7.29,-4.1,7,-3.6,7.9,-4.1,8,-3.8,8.05,-3.8,8.5,-3.7,9.5,-4.2,9.01,-3.2,9.14,-3.2,9.23,-2.8,9.31,-2.5,9.4,-2.5,9.06,-2,9.19,-1.2,9.92,-1.6,10,.1,9.96,0,9.86,.8,9.77,-.9,9.72,-1.5,9.67,-1.7,9.55,-1.8,9.51,-1.9,6.51,-2.4,6.63,-2.5,6.63,-1.5,6.86,-1.6,6.88,-2.2,7.75,-2.1,7.81,-2.3,7.86,-1,8.07,-2,8.34,-1.5,8.34,-1,8.38,-.5,
6.46,8.8,6.54,9,6.6,9.4,6.66,9,6.8,8.2,6.88,8.7,6.94,8.8,7.05,8.6,7.12,8.7,7.2,9,7.3,8.6,7.34,8.8,7.44,9,7.52,9.2,7.56,9.5,7.74,9.4,7.9,9,7.95,8.6,8.04,8.4,8.16,9.5,8.26,9,8.34,8.9,8.44,9,8.52,9.3,8.6,9.3,8.66,9.5,8.74,9.4,8.82,9.2,9,9.1,9.16,9.1,9.26,9.4,9.34,9.4,9.44,9.6,9.5,9.5,9.62,9,9.72,9.1,9.8,8.7,9.84,9.4,
6.5,6.5,6.56,7.6,6.62,5.7,6.68,6.9,6.74,6,6.8,7.2,6.86,5.8,6.92,7.4,6.98,6,7.04,6.8,7.1,5.7,7.16,6.6,7.22,5.9,7.28,7.4,7.34,6,7.4,7.6,7.46,6.3,7.52,7.2,7.58,6.2,7.64,6.9,7.7,5.8,7.76,6.4,7.82,7.2,7.88,6,7.94,7.7,8,6.4,8.06,7.2,8.12,6,8.18,7,8.24,6.3,8.3,7.6,8.36,6.7,8.42,7.8,8.48,6.2,8.54,7,8.6,6.4,8.66,7.6,8.72,6.5,8.78,7.1,8.84,6.3,8.9,8,8.96,7,9.02,6.2,9.08,7.3,9.14,6.5,9.2,7.6,9.26,6.4,9.32,7.2,9.38,6.7,9.44,7.8,9.5,6.8,9.56,7.3,9.62,6.3,9.68,7.6,9.74,6.4,9.8,7.6,9.86,6.6,9.92,8.2,9.96,6.9,10,7.4,
6.5,2.8,6.56,1.6,6.62,3,6.68,1.4,6.74,2.6,6.8,3,6.86,1.1,6.92,2.4,6.98,1.2,7.04,2.8,7.1,1.3,7.16,.2,7.22,3,7.28,1.6,7.34,2.7,7.4,1.1,7.46,3,7.52,1.8,7.58,.6,7.64,2.6,7.7,1.1,7.76,2.2,7.8,.6,7.84,3,7.9,1.9,7.96,.8,8.02,2.8,8.08,1.4,8.14,3.1,8.2,1.2,8.26,2.6,8.32,1,8.38,2.9,8.44,1.3,8.5,3.2,8.56,2,8.62,3,8.68,2,8.74,3.2,8.8,1.8,8.86,3,8.92,2.3,8.98,1.6,9.04,3.1,9.1,2.4,9.16,1.8,9.22,3.2,9.28,2.2,9.34,.3,9.4,3.3,9.46,1.6,9.52,2.6,9.58,1.3,9.64,3.2,9.7,2.1,9.76,3.4,9.82,2.5,9.88,3.4,9.94,2.6,9.98,3.6,
6.5,.4,6.54,-.4,6.6,.2,6.7,-1,6.74,.1,6.86,.8,6.92,-.1,7,-.3,7.04,.2,7.1,.1,7.14,-.1,7.22,.1,7.26,-.6,7.36,.3,7.42,-.2,7.5,.1,7.56,-.4,7.62,.2,7.68,-.1,7.76,.3,7.84,-.2,7.92,.1,8.02,-.1,8.1,.1,8.14,-.2,8.2,.1,8.3,.1,8.36,-.3,8.36,-.8,8.42,-.6,8.5,.3,8.56,.1,8.6,-.1,8.94,.4,9,.3,9.06,.2,9.1,-.1,9.18,.3,9.2,.1,9.24,-.1,9.3,-.1,9.42,0,
];

const pairs = (flat: number[]) => {
  const out: { x: number; y: number }[] = [];
  for (let i = 0; i < flat.length; i += 2) out.push({ x: flat[i], y: flat[i + 1] });
  return out;
};

const FONT = "'Liberation Sans', Arial, sans-serif";
const INK = "#231f20";

const boxPlugin = {
  id: "box",
  afterDraw(chart: any) {
    const { left, top, right, bottom } = chart.chartArea;
    const ctx = chart.ctx;
    ctx.save();
    ctx.strokeStyle = "#333";
    ctx.lineWidth = 1.4;
    ctx.strokeRect(left, top, right - left, bottom - top);
    ctx.restore();
  },
};

function buildConfig(title: string, cores: number[][][], points: number[], trend: number[], dims: { zero: number[] }) {
  const datasets: any[] = [];
  refLines.forEach((v, i) => {
    datasets.push({
      data: xRange.map((x) => ({ x, y: v })),
      showLine: true, pointRadius: 0, borderColor: i === 1 ? dims.zero[0] : INK, borderWidth: 1,
      borderDash: i === 1 ? [dims.zero[1], 3, 2, 3] : [10, 3, 2, 3], order: 5,
    });
  });
  cores.forEach(([xs, up, lo]) => {
    datasets.push({ data: xs.map((x, i) => ({ x, y: up[i] })), showLine: true, pointRadius: 0, borderWidth: 0, borderColor: INK, backgroundColor: INK, fill: "+1", order: 3 });
    datasets.push({ data: xs.map((x, i) => ({ x, y: lo[i] })), showLine: true, pointRadius: 0, borderWidth: 0, borderColor: INK, fill: false, order: 3 });
  });
  datasets.push({
    data: pairs(points), showLine: false, pointRadius: 2, pointBorderWidth: 1.05,
    pointBorderColor: INK, pointBackgroundColor: "rgba(255,255,255,0)", order: 2,
  });
  datasets.push({
    data: trendAges.map((x, i) => ({ x, y: trend[i] })), showLine: true, pointRadius: 0,
    borderColor: INK, borderWidth: 2.2, order: 1,
  });
  return {
    type: "scatter",
    data: { datasets },
    plugins: [boxPlugin],
    options: {
      animation: false, responsive: false,
      plugins: {
        legend: { display: false }, tooltip: { enabled: false },
        title: {
          display: true, text: title, color: INK, align: "center",
          font: { family: FONT, size: 21.3, weight: "normal", lineHeight: 1 },
          padding: { top: 7.2, bottom: 10 },
        },
      },
      scales: {
        x: {
          type: "linear", min: xRange[0], max: xRange[1],
          afterFit: (s: any) => { s.height = 59; },
          grid: { drawOnChartArea: false, drawTicks: true, tickLength: 5, color: INK },
          border: { display: false },
          ticks: { stepSize: xTickStep, includeBounds: false, color: INK, padding: 6, maxRotation: 0, autoSkip: false, font: { family: FONT, size: 21.3 }, callback: (v: number) => String(v) },
          title: { display: true, text: "Age  ", color: INK, padding: { top: 0, bottom: 0.4 }, font: { family: FONT, size: 21.3, lineHeight: 1.2 } },
        },
        y: {
          type: "linear", min: yRange[0], max: yRange[1],
          afterFit: (s: any) => { s.width = 67; },
          grid: { drawOnChartArea: false, drawTicks: true, tickLength: 5, color: INK },
          border: { display: false },
          ticks: { stepSize: yTickStep, includeBounds: false, color: INK, padding: 2, minRotation: 90, maxRotation: 90, crossAlign: "center", autoSkip: false, font: { family: FONT, size: 21.3 }, callback: (v: number) => String(v) },
          title: { display: true, text: "Log Likelihood Ratio (LLR)", color: INK, padding: { top: 6, bottom: 0 }, font: { family: FONT, size: 21.3, lineHeight: 1.2 } },
        },
        // Empty right-hand gutter: keeps the plot box running off the page and centres the title on it.
        gutter: {
          type: "linear", position: "right", display: true,
          afterFit: (s: any) => { s.width = 67; },
          grid: { display: false }, border: { display: false }, ticks: { display: false },
        },
      },
    },
  } as any;
}

function Panel({ top, config }: { top: number; config: () => any }) {
  const ref = useRef<HTMLCanvasElement>(null);
  useEffect(() => {
    const c = new Chart(ref.current as HTMLCanvasElement, config());
    return () => c.destroy();
  }, []);
  return <canvas ref={ref} width={1029} height={335} style={{ position: "absolute", left: 0, top, display: "block" }} />;
}

export default function App() {
  return (
    <div style={{ position: "fixed", left: 0, top: 0, width: 955, height: 693, overflow: "hidden", background: "#fff" }}>
      <Panel top={0} config={() => buildConfig("Reference sample", refCores, [...refYoung, ...refDense, ...refMid, ...refOld], refTrend, { zero: [INK, 10] })} />
      <Panel top={358} config={() => buildConfig("Turner sample", turnerCores, [...turnerYoung, ...turnerDenseA, ...turnerMid, ...turnerDenseB, ...turnerDenseC, ...turnerOld], turnerTrend, { zero: ["#888", 6] })} />
    </div>
  );
}
